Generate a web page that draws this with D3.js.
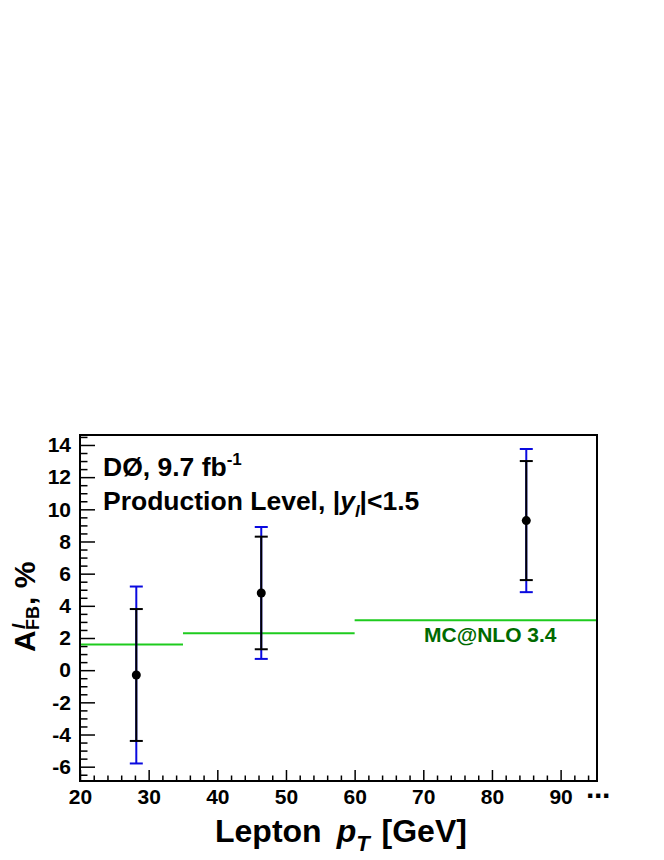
<!DOCTYPE html>
<html>
<head>
<meta charset="utf-8">
<script src="https://cdn.jsdelivr.net/npm/d3@7"></script>
<style>
  body { margin: 0; background: #fff; }
  svg { display: block; }
  text { font-family: "Liberation Sans", Arial, Helvetica, sans-serif; font-weight: bold; }
</style>
</head>
<body>
<svg width="664" height="860"></svg>
<script>
// measured points (lepton pT bins)
const ptCenter = [28.2, 46.4, 85.0];
const afb = [-0.3, 4.8, 9.3];
const statErr = [4.1, 3.5, 3.7];   // inner (black) bars
const totErr = [5.5, 4.1, 4.45];   // outer (blue) bars

// MC@NLO prediction, one value per bin
const mcLo = [20, 35, 60];
const mcHi = [35, 60, 100];
const mcAfb = [1.6, 2.3, 3.1];

const xTicks = [20, 30, 40, 50, 60, 70, 80, 90];
const yTicks = [-6, -4, -2, 0, 2, 4, 6, 8, 10, 12, 14];

const svg = d3.select('svg');
const fL = 80, fR = 597, fT = 435, fB = 781;

const x = d3.scaleLinear().domain([20, 95.3]).range([fL, fR]);
const y = d3.scaleLinear().domain([-6.89, 14.62]).range([fB, fT]);

svg.append('clipPath').attr('id', 'clip')
  .append('rect')
    .attr('x', fL).attr('y', fT)
    .attr('width', fR - fL).attr('height', fB - fT);

// minor ticks
const xMinor = d3.range(20, 95.3, 2).filter(v => v % 10 !== 0);
const yMinor = d3.range(-6.5, 14.6, 0.5).filter(v => v % 2 !== 0);

svg.append('g')
  .attr('transform', `translate(0,${fB})`)
  .call(d3.axisBottom(x).tickValues(xMinor).tickSize(-5.5).tickFormat(''))
  .call(g => g.select('.domain').remove())
  .call(g => g.selectAll('line').attr('stroke-width', 1.5));

svg.append('g')
  .attr('transform', `translate(${fL},0)`)
  .call(d3.axisLeft(y).tickValues(yMinor).tickSize(-7.5).tickFormat(''))
  .call(g => g.select('.domain').remove())
  .call(g => g.selectAll('line').attr('stroke-width', 1.5));

// major ticks + labels (plain hyphen for negatives)
const fmt = d => String(d);

svg.append('g')
  .attr('transform', `translate(0,${fB})`)
  .call(d3.axisBottom(x).tickValues(xTicks).tickSize(-11).tickPadding(8).tickFormat(fmt))
  .call(g => g.select('.domain').remove())
  .call(g => g.selectAll('line').attr('stroke-width', 1.5))
  .call(g => g.selectAll('text')
    .attr('font-family', '"Liberation Sans", Arial, sans-serif')
    .attr('font-size', 21).attr('font-weight', 'bold').attr('fill', '#000'));

svg.append('g')
  .attr('transform', `translate(${fL},0)`)
  .call(d3.axisLeft(y).tickValues(yTicks).tickSize(-15).tickPadding(9).tickFormat(fmt))
  .call(g => g.select('.domain').remove())
  .call(g => g.selectAll('line').attr('stroke-width', 1.5))
  .call(g => g.selectAll('text')
    .attr('font-family', '"Liberation Sans", Arial, sans-serif')
    .attr('font-size', 21).attr('font-weight', 'bold').attr('fill', '#000'));

// dots after the last x label
svg.append('text')
  .attr('x', 598).attr('y', 806)
  .attr('text-anchor', 'middle')
  .attr('font-size', 30)
  .attr('letter-spacing', '-2')
  .text('\u00b7\u00b7\u00b7');

// MC@NLO histogram
const plot = svg.append('g').attr('clip-path', 'url(#clip)');
plot.selectAll('.mc').data(mcAfb)
  .enter().append('line')
    .attr('class', 'mc')
    .attr('x1', (d, i) => x(mcLo[i]))
    .attr('x2', (d, i) => x(mcHi[i]))
    .attr('y1', d => y(d))
    .attr('y2', d => y(d))
    .attr('stroke', '#1ecb1e')
    .attr('stroke-width', 2);

svg.append('text')
  .attr('x', 424).attr('y', 642)
  .attr('font-size', 21)
  .attr('fill', '#006a00')
  .text('MC@NLO 3.4');

// error bars
const capW = 6.5;
const pts = afb.map((v, i) => ({ x: ptCenter[i], y: v, s: statErr[i], t: totErr[i] }));

const eb = svg.append('g');
const blue = '#0a0adf';
eb.selectAll('.tot').data(pts).enter().append('line')
  .attr('x1', d => x(d.x)).attr('x2', d => x(d.x))
  .attr('y1', d => y(d.y - d.t)).attr('y2', d => y(d.y + d.t))
  .attr('stroke', blue).attr('stroke-width', 2);
[-1, 1].forEach(s => {
  eb.selectAll('.totcap' + s).data(pts).enter().append('line')
    .attr('x1', d => x(d.x) - capW).attr('x2', d => x(d.x) + capW)
    .attr('y1', d => y(d.y + s * d.t)).attr('y2', d => y(d.y + s * d.t))
    .attr('stroke', blue).attr('stroke-width', 2);
});
eb.selectAll('.stat').data(pts).enter().append('line')
  .attr('x1', d => x(d.x)).attr('x2', d => x(d.x))
  .attr('y1', d => y(d.y - d.s)).attr('y2', d => y(d.y + d.s))
  .attr('stroke', '#000').attr('stroke-width', 2);
[-1, 1].forEach(s => {
  eb.selectAll('.statcap' + s).data(pts).enter().append('line')
    .attr('x1', d => x(d.x) - capW).attr('x2', d => x(d.x) + capW)
    .attr('y1', d => y(d.y + s * d.s)).attr('y2', d => y(d.y + s * d.s))
    .attr('stroke', '#000').attr('stroke-width', 2);
});
eb.selectAll('circle').data(pts).enter().append('circle')
  .attr('cx', d => x(d.x)).attr('cy', d => y(d.y))
  .attr('r', 4.5).attr('fill', '#000');

// frame
svg.append('rect')
  .attr('x', fL).attr('y', fT)
  .attr('width', fR - fL).attr('height', fB - fT)
  .attr('fill', 'none').attr('stroke', '#000').attr('stroke-width', 2);

// labels inside plot
const t1 = svg.append('text').attr('x', 103).attr('y', 476).attr('font-size', 26.5);
t1.append('tspan').text('D\u00d8, 9.7 fb');
t1.append('tspan').attr('font-size', 17).attr('dy', -11).text('-1');

const t2 = svg.append('text').attr('x', 103).attr('y', 510).attr('font-size', 26.5);
t2.append('tspan').text('Production Level, |');
t2.append('tspan').attr('font-style', 'italic').text('y');
t2.append('tspan').attr('font-style', 'italic').attr('font-size', 17).attr('dy', 7).text('l');
t2.append('tspan').attr('dy', -7).text('|<1.5');

// x title
const xt = svg.append('text').attr('x', 215).attr('y', 842).attr('font-size', 32);
xt.append('tspan').text('Lepton');
xt.append('tspan').attr('dx', 15).attr('font-style', 'italic').text('p');
xt.append('tspan').attr('font-style', 'italic').attr('font-size', 22).attr('dy', 9).text('T');
xt.append('tspan').attr('dy', -9).attr('dx', 3).text(' [GeV]');

// y title, rotated
const yt = svg.append('g').attr('transform', 'translate(35,652) rotate(-90)');
yt.append('text').attr('font-size', 30).text('A');
yt.append('text').attr('x', 23).attr('y', -10).attr('font-size', 19)
  .attr('font-style', 'italic').text('l');
yt.append('text').attr('x', 22).attr('y', 4).attr('font-size', 18).text('FB');
yt.append('text').attr('x', 47).attr('font-size', 30).text(', %');
</script>
</body>
</html>
